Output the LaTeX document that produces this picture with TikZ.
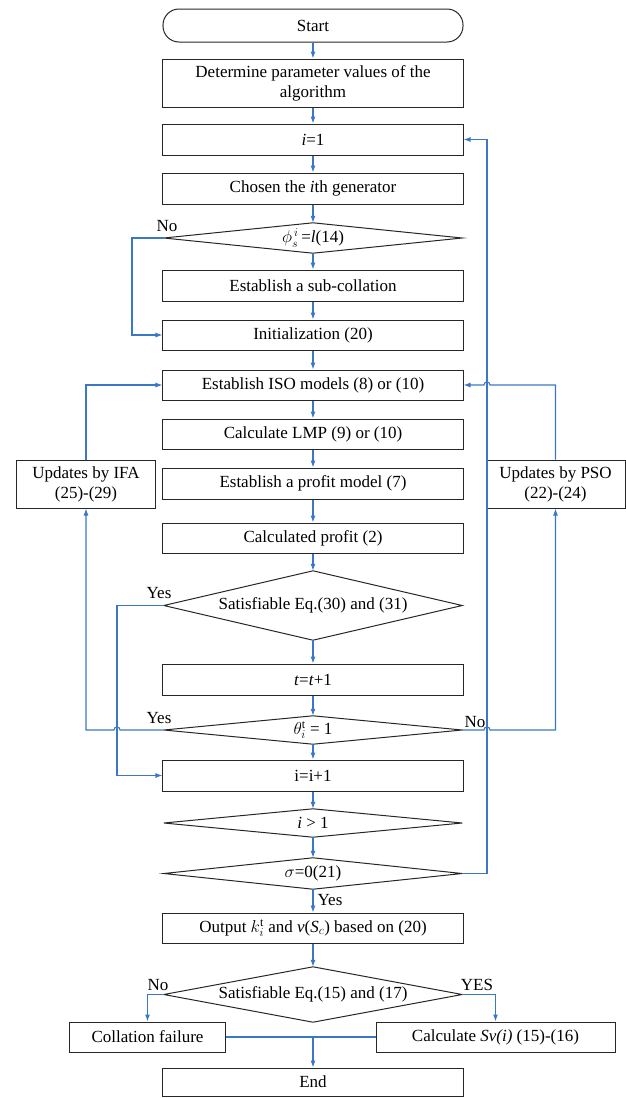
\documentclass[tikz,border=0pt]{standalone}
\usepackage{fontspec}
\setmainfont{Liberation Serif}
\usetikzlibrary{arrows.meta,calc}
\definecolor{lb}{HTML}{3A78C3}
\begin{document}
\begin{tikzpicture}[x=1bp,y=-1bp,
  txt/.style={font=\fontsize{17bp}{20bp}\selectfont},
  box/.style={txt,draw=black!85,line width=1bp,minimum width=300bp,minimum height=31bp,inner sep=1bp,align=center},
  dia/.style={txt,minimum width=298bp,inner sep=0pt,align=center},
  ar/.style={draw=lb,line width=1.1bp,-{Latex[length=7bp,width=5bp]}},
  ln/.style={draw=lb,line width=1.1bp},
  lab/.style={txt,inner sep=0pt}]
\useasboundingbox (0,0) rectangle (626,1098);
% main column
\node[box,minimum height=33bp,rounded corners=16bp] (start) at (313,25.5) {Start};
\node[box,minimum height=48bp] (det) at (313,83) {Determine parameter values of the\\algorithm};
\node[box] (i1) at (313,139.5) {\textit{i}=1};
\node[box] (ch) at (313,188.5) {Chosen the \textit{i}th generator};
\node[dia,minimum height=30bp] (phi) at (313,238) {$\phi_{s}^{\,i}$\,=\textit{l}(14)};
\node[box] (sub) at (313,285.5) {Establish a sub-collation};
\node[box,minimum height=30bp] (init) at (313,335) {Initialization (20)};
\node[box,minimum height=30bp] (iso) at (313,385) {Establish ISO models (8) or (10)};
\node[box,minimum height=30bp] (lmp) at (313,434) {Calculate LMP (9) or (10)};
\node[box] (prof) at (313,483.5) {Establish a profit model (7)};
\node[box,minimum height=30bp] (cp) at (313,538) {Calculated profit (2)};
\node[dia,minimum height=69bp] (sat) at (313,605.5) {Satisfiable Eq.(30) and (31)};
\node[box] (tt) at (313,679.5) {\textit{t}=\textit{t}+1};
\node[dia,minimum height=28bp] (th) at (313,730) {$\theta_i^{\mathrm{t}}$ = 1};
\node[box] (ii) at (313,775.5) {i=i+1};
\node[dia,minimum height=28bp] (ig) at (313,823) {\textit{i} > 1};
\node[dia,minimum height=31bp] (sg) at (313,873.5) {$\sigma$=0(21)};
\node[box,minimum height=30bp] (out) at (313,928) {Output $k_i^{\mathrm{t}}$ and \textit{v}(\textit{S}$_c$) based on (20)};
\node[dia,minimum height=55bp] (fin) at (313,994.5) {Satisfiable Eq.(15) and (17)};
\node[box,minimum width=155bp,minimum height=30bp] (coll) at (147.5,1037) {Collation failure};
\node[box,minimum width=239bp,minimum height=30bp] (sv) at (495.5,1037) {Calculate \textit{Sv(i)} (15)-(16)};
\node[box,minimum height=28bp] (end) at (313,1082) {End};
% side boxes
\node[box,minimum width=139bp,minimum height=48bp] (ifa) at (86,484) {Updates by IFA\\(25)-(29)};
\node[box,minimum width=139bp,minimum height=48bp] (pso) at (555.5,484) {Updates by PSO\\(22)-(24)};
% diamonds outlines
\foreach \n in {phi,sat,th,ig,sg,fin}
  \draw[draw=black!85,line width=1bp] (\n.west) -- (\n.north) -- (\n.east) -- (\n.south) -- cycle;
% straight connectors
\draw[ar] (start) -- (det);
\draw[ar] (det) -- (i1);
\draw[ar] (i1) -- (ch);
\draw[ar] (ch) -- (phi.north);
\draw[ar] (phi.south) -- (sub);
\draw[ar] (sub) -- (init);
\draw[ar] (init) -- (iso);
\draw[ar] (iso) -- (lmp);
\draw[ar] (lmp) -- (prof);
\draw[ar] (prof) -- (cp);
\draw[ar] (cp) -- (sat.north);
\draw[ar] (sat.south) -- (tt);
\draw[ar] (tt) -- (th.north);
\draw[ar] (th.south) -- (ii);
\draw[ar] (ii) -- (ig.north);
\draw[ar] (ig.south) -- (sg.north);
\draw[ar] (sg.south) -- (out);
\draw[ar] (out) -- (fin.north);
% loops
\draw[ar] (phi.west) -- (132,238) |- (init.west);
\draw[ar] (sat.west) -- (117,605.5) |- (ii.west);
\draw[ar] (th.west) -- (120,730) .. controls (120,726) and (114,726) .. (114,730) -- (86,730) -- (ifa.south);
\draw[ar] (ifa.north) -- (86,385) -- (iso.west);
\draw[ar] (th.east) -- (484,730) .. controls (484,726) and (490,726) .. (490,730) -- (555.5,730) -- (pso.south);
\draw[ar] (pso.north) -- (555.5,385) -- (490,385) .. controls (490,381) and (484,381) .. (484,385) -- (iso.east);
\draw[ar] (sg.east) -- (487,873.5) |- (i1.east);
% bottom
\draw[ar] (fin.west) -| (coll.north);
\draw[ar] (fin.east) -| (sv.north);
\coordinate (m) at (coll.east -| end.north);
\draw[ln] (coll.east) -- (sv.west);
\draw[ar] (m) -- (end.north);
% labels
\node[lab] (l1) at (167,226) {No};
\node[lab] (l2) at (159,593) {Yes};
\node[lab] (l3) at (159,718) {Yes};
\node[lab] (l4) at (475,722) {No};
\node[lab] (l5) at (330,900) {Yes};
\node[lab] (l6) at (158,985) {No};
\node[lab] (l7) at (477,985) {YES};
\end{tikzpicture}
\end{document}
